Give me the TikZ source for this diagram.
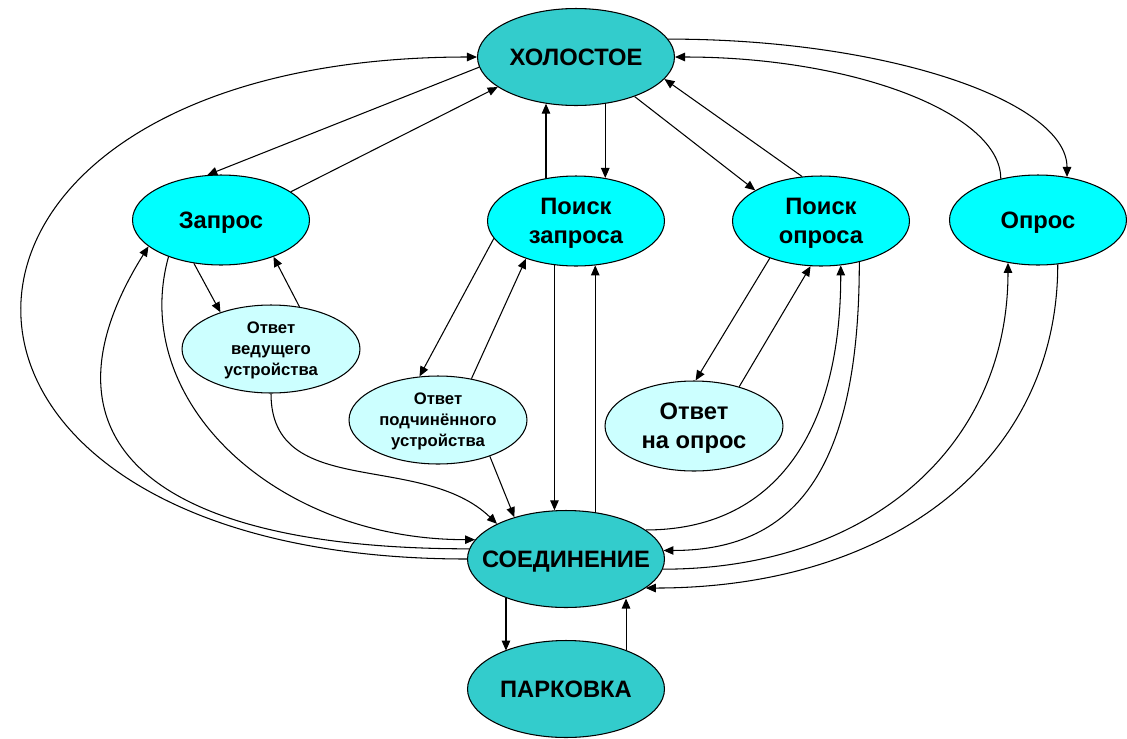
\documentclass[tikz,border=0pt]{standalone}
\usepackage{fontspec}
\setmainfont{Liberation Sans}
\usetikzlibrary{shapes.geometric,arrows.meta}
\definecolor{stateteal}{HTML}{33CCCC}
\definecolor{statecyan}{HTML}{00FFFF}
\definecolor{statelight}{HTML}{CCFFFF}

\begin{document}
\begin{tikzpicture}[x=0.02cm,y=-0.02cm,line width=0.6pt,
		>={Triangle[length=0.2cm,width=0.17cm]},
		state/.style={ellipse,draw,inner sep=0pt,text depth=0pt,align=center,font=\bfseries\fontsize{13.5}{16.5}\selectfont},
		bigstate/.style={state,fill=stateteal,minimum width=3.94cm,minimum height=1.94cm},
		midstate/.style={state,fill=statecyan,minimum width=3.54cm,minimum height=1.8cm},
		lightstate/.style={state,fill=statelight,minimum width=3.56cm,minimum height=1.8cm},
		smallstate/.style={lightstate,minimum height=1.76cm,font=\bfseries\fontsize{9.5}{11.9}\selectfont}]
		\useasboundingbox (0,0) rectangle (1127,738);
		
		\node[bigstate] (idle) at (576,57) {\makebox[0pt]{ХОЛОСТОЕ}};
		\node[midstate] (req) at (221,220) {Запрос};
		\node[midstate] (sreq) at (576,221) {Поиск\\запроса};
		\node[midstate] (spoll) at (821,221) {Поиск\\опроса};
		\node[midstate] (poll) at (1038,220) {Опрос};
		\node[smallstate] (mresp) at (271,349) {Ответ\\ведущего\\устройства};
		\node[smallstate] (sresp) at (438,420) {Ответ\\подчинённого\\устройства};
		\node[lightstate] (presp) at (694,426) {Ответ\\на опрос};
		\node[bigstate] (conn) at (566,559) {\makebox[0pt]{СОЕДИНЕНИЕ}};
		\node[bigstate] (park) at (566,689) {\makebox[0pt]{ПАРКОВКА}};
		
		\draw[->] (idle.186) -- (req.107);
		\draw[->] (req.22) -- (idle.201);
		\draw[->] (conn.west) .. controls +(-600,0) and +(-600,0) .. (idle.west);
		\draw[->] (conn.174) .. controls +(-330,0) and +(-117,187) .. (req.200);
		\draw[->] (req.215) .. controls +(-40,144) and +(-200,0) .. (conn.168);
		
		\draw[->] (req.238) -- (mresp.144);
		\draw[->] (mresp.56) -- (req.325);
		\draw[->] (mresp.south) .. controls +(0,107) and +(-76,-73) .. (conn.153);
		
		\draw[->] (sreq.192) -- (sresp.113);
		\draw[->] (sresp.51) -- (sreq.217);
		\draw[->] (sresp.325) -- (conn.141);
		
		\draw[->] (sreq.125) -- (sreq.125 |- idle.237);
		\draw[->] (idle.302) -- (idle.302 |- sreq.56);
		\draw[->] (sreq.244) -- (sreq.244 |- conn.103);
		\draw[->] (conn.58) -- (conn.58 |- sreq.294);
		
		\draw[->] (idle.326) -- (spoll.155);
		\draw[->] (spoll.113) -- (idle.346);
		\draw[->] (idle.11) .. controls +(221,0) and +(0,-75) .. (poll.56);
		\draw[->] (poll.132) .. controls +(0,-65) and +(179,0) .. (idle.east);
		
		\draw[->] (spoll.216) -- (presp.88);
		\draw[->] (presp.41) -- (spoll.257);
		\draw[->] (conn.20) .. controls +(126,0) and +(0,171) .. (spoll.294);
		\draw[->] (spoll.313) .. controls +(0,200) and +(137,0) .. (conn.5);
		\draw[->] (conn.354) .. controls +(206,0) and +(0,184) .. (poll.235);
		\draw[->] (poll.294) .. controls +(0,195) and +(247,0) .. (conn.340);
		
		\draw[->] (conn.213) -- (conn.213 |- park.148);
		\draw[->] (park.33) -- (park.33 |- conn.326);
	\end{tikzpicture}
\end{document}
